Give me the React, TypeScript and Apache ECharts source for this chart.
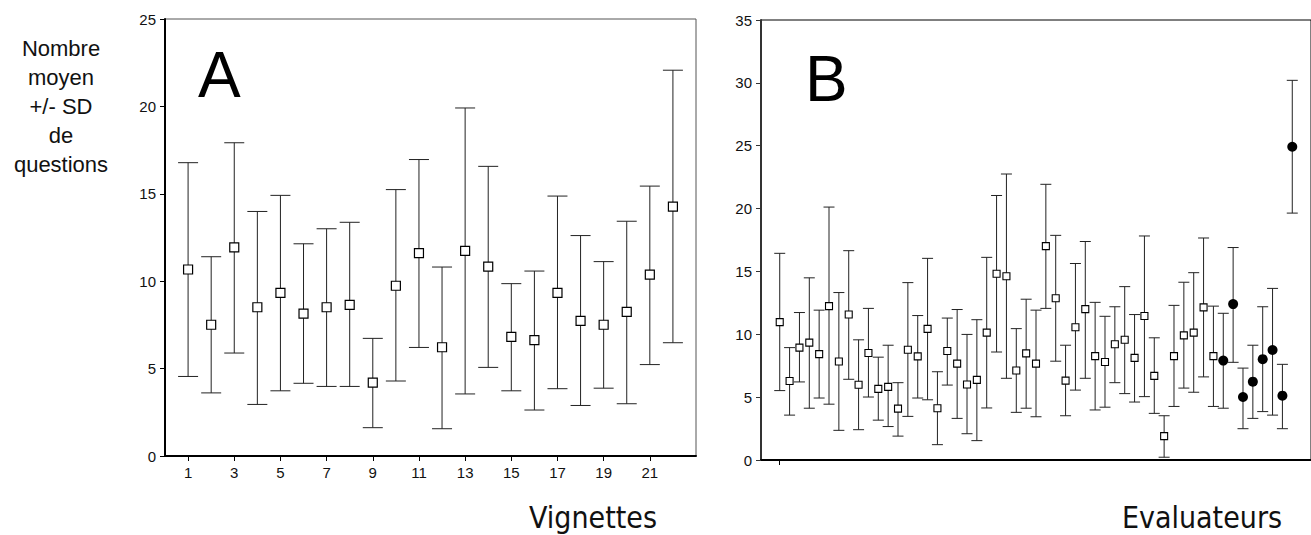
import React, { useEffect, useRef } from "react";
import * as echarts from "echarts";

// Panel A: vignettes 1..22
const vignettes = [1,2,3,4,5,6,7,8,9,10,11,12,13,14,15,16,17,18,19,20,21,22];
const meansA = [10.67,7.51,11.93,8.51,9.33,8.14,8.51,8.65,4.20,9.74,11.61,6.22,11.73,10.83,6.81,6.63,9.33,7.73,7.51,8.24,10.38,14.27];
const upperA = [16.78,11.40,17.92,13.99,14.91,12.14,13.00,13.37,6.73,15.24,16.96,10.81,19.91,16.57,9.86,10.58,14.87,12.61,11.12,13.43,15.44,22.07];
const lowerA = [4.55,3.61,5.89,2.95,3.73,4.16,3.98,3.98,1.62,4.29,6.21,1.56,3.55,5.07,3.73,2.63,3.85,2.89,3.88,2.99,5.23,6.48];
const xTicksA = [1,3,5,7,9,11,13,15,17,19,21];

// Panel B: evaluateurs (53)
const meansB = [10.97,6.29,8.94,9.34,8.42,12.24,7.83,11.57,5.99,8.51,5.66,5.82,4.09,8.77,8.24,10.43,4.12,8.67,7.67,6.01,6.37,10.13,14.82,14.62,7.12,8.48,7.67,17.01,12.87,6.31,10.56,12.00,8.26,7.80,9.21,9.56,8.12,11.45,6.69,1.90,8.26,9.91,10.13,12.14,8.26,7.91,12.40,5.01,6.23,8.02,8.75,5.12,24.92];
const upperB = [16.44,8.94,11.73,14.49,11.92,20.12,13.32,16.65,9.56,12.06,8.18,9.13,6.15,14.11,11.49,16.04,7.02,11.29,11.97,9.99,11.16,16.12,21.04,22.75,10.45,12.79,11.92,21.93,17.87,9.13,15.63,17.38,12.54,11.43,12.19,13.79,11.57,17.82,9.72,3.52,12.30,14.14,14.90,17.66,12.24,11.67,16.90,7.31,9.13,12.19,13.65,7.61,30.20];
const lowerB = [5.52,3.57,6.21,4.12,4.93,4.44,2.36,6.42,2.41,5.01,3.17,2.66,1.90,3.47,4.93,4.79,1.22,5.96,3.31,2.09,1.54,4.14,8.59,6.50,3.79,4.12,3.44,12.06,7.86,3.52,5.56,6.50,3.98,4.20,6.15,5.28,4.61,5.04,3.71,0.22,4.26,5.72,5.39,6.61,4.26,4.12,7.77,2.49,3.31,3.85,3.57,2.49,19.64];
// 0 = open square, 1 = filled circle
const groupB = [0,0,0,0,0,0,0,0,0,0,0,0,0,0,0,0,0,0,0,0,0,0,0,0,0,0,0,0,0,0,0,0,0,0,0,0,0,0,0,0,0,0,0,0,0,1,1,1,1,1,1,1,1];
const xTicksB = [0];

const yLabel = ["Nombre", "moyen", "+/- SD", "de", "questions"];

const FONT = "'Liberation Sans', Arial, sans-serif";
const TITLE_FONT = "'DejaVu Sans', sans-serif";

function errorBarRenderer(halfCap: number, color: string) {
  return (params: any, api: any) => {
    const x = api.value(0);
    const lo = api.coord([x, api.value(1)]);
    const hi = api.coord([x, api.value(2)]);
    const st = { stroke: color, lineWidth: 1 };
    return {
      type: "group",
      children: [
        { type: "line", shape: { x1: lo[0], y1: lo[1], x2: hi[0], y2: hi[1] }, style: st },
        { type: "line", shape: { x1: lo[0] - halfCap, y1: lo[1], x2: lo[0] + halfCap, y2: lo[1] }, style: st },
        { type: "line", shape: { x1: hi[0] - halfCap, y1: hi[1], x2: hi[0] + halfCap, y2: hi[1] }, style: st },
      ],
    };
  };
}

export default function App() {
  const ref = useRef<HTMLDivElement>(null);
  useEffect(() => {
    if (!ref.current) return;
    const chart = echarts.init(ref.current, null, { renderer: "svg" });
    const idxB = meansB.map((_, i) => i);
    const axisLabelStyle = { fontSize: 15, color: "#111", fontFamily: FONT };
    const option: any = {
      animation: false,
      backgroundColor: "#fff",
      grid: [
        { left: 165, top: 19, width: 531, height: 437, show: true, borderColor: "#555", borderWidth: 1, containLabel: false },
        { left: 761, top: 20, width: 553, height: 440, show: true, borderColor: "#000", borderWidth: 1, containLabel: false },
      ],
      xAxis: [
        {
          gridIndex: 0, type: "value", min: 0, max: 23,
          axisLine: { show: true, onZero: false, lineStyle: { color: "#000", width: 2 } },
          axisTick: { show: true, customValues: xTicksA, length: 5, lineStyle: { color: "#000" } },
          axisLabel: { show: true, customValues: xTicksA, margin: 9, ...axisLabelStyle },
          splitLine: { show: false },
        },
        {
          gridIndex: 1, type: "value", min: -1.9, max: 53.9,
          axisLine: { show: true, onZero: false, lineStyle: { color: "#000", width: 2 } },
          axisTick: { show: true, customValues: xTicksB, length: 5, lineStyle: { color: "#000" } },
          axisLabel: { show: false },
          splitLine: { show: false },
        },
      ],
      yAxis: [
        {
          gridIndex: 0, type: "value", min: 0, max: 25, interval: 5,
          axisLine: { show: true, onZero: false, lineStyle: { color: "#000", width: 2 } },
          axisTick: { show: true, length: 5, lineStyle: { color: "#000" } },
          axisLabel: { margin: 9, ...axisLabelStyle },
          splitLine: { show: false },
        },
        {
          gridIndex: 1, type: "value", min: 0, max: 35, interval: 5,
          axisLine: { show: true, onZero: false, lineStyle: { color: "#333", width: 2 } },
          axisTick: { show: true, length: 5, lineStyle: { color: "#333" } },
          axisLabel: { margin: 9, ...axisLabelStyle },
          splitLine: { show: false },
        },
      ],
      series: [
        {
          type: "custom", xAxisIndex: 0, yAxisIndex: 0,
          renderItem: errorBarRenderer(10, "#222"),
          data: vignettes.map((v, i) => [v, lowerA[i], upperA[i]]),
          z: 2,
        },
        {
          type: "scatter", xAxisIndex: 0, yAxisIndex: 0,
          symbol: "rect", symbolSize: 9,
          itemStyle: { color: "#fff", borderColor: "#000", borderWidth: 1.2, opacity: 1 },
          data: vignettes.map((v, i) => [v, meansA[i]]),
          z: 3,
        },
        {
          type: "custom", xAxisIndex: 1, yAxisIndex: 1,
          renderItem: errorBarRenderer(5.5, "#222"),
          data: idxB.map((i) => [i, lowerB[i], upperB[i]]),
          z: 2,
        },
        {
          type: "scatter", xAxisIndex: 1, yAxisIndex: 1,
          symbol: "rect", symbolSize: 7,
          itemStyle: { color: "#fff", borderColor: "#000", borderWidth: 1.1, opacity: 1 },
          data: idxB.filter((i) => groupB[i] === 0).map((i) => [i, meansB[i]]),
          z: 3,
        },
        {
          type: "scatter", xAxisIndex: 1, yAxisIndex: 1,
          symbol: "circle", symbolSize: 10,
          itemStyle: { color: "#000", opacity: 1 },
          data: idxB.filter((i) => groupB[i] === 1).map((i) => [i, meansB[i]]),
          z: 3,
        },
      ],
      graphic: [
        {
          type: "text", x: 61, y: 34,
          style: {
            text: yLabel.join("\n"),
            fontSize: 22, lineHeight: 29, fontFamily: FONT, fill: "#111", align: "center", verticalAlign: "top",
          },
        },
        {
          type: "text", x: 198, y: 107,
          style: { text: "A", fontSize: 64, fontFamily: FONT, fill: "#000", verticalAlign: "bottom" },
        },
        {
          type: "text", x: 805, y: 111,
          style: { text: "B", fontSize: 64, fontFamily: FONT, fill: "#000", verticalAlign: "bottom" },
        },
        {
          type: "text", x: 593, y: 518, scaleX: 0.9,
          style: { text: "Vignettes", fontSize: 30, fontFamily: TITLE_FONT, fill: "#111", align: "center", verticalAlign: "middle" },
        },
        {
          type: "text", x: 1202, y: 518, scaleX: 0.9,
          style: { text: "Evaluateurs", fontSize: 30, fontFamily: TITLE_FONT, fill: "#111", align: "center", verticalAlign: "middle" },
        },
      ],
    };
    chart.setOption(option);
    return () => chart.dispose();
  }, []);
  return (
    <div
      ref={ref}
      style={{ position: "fixed", left: 0, top: 0, width: 1311, height: 535, background: "#fff" }}
    />
  );
}
